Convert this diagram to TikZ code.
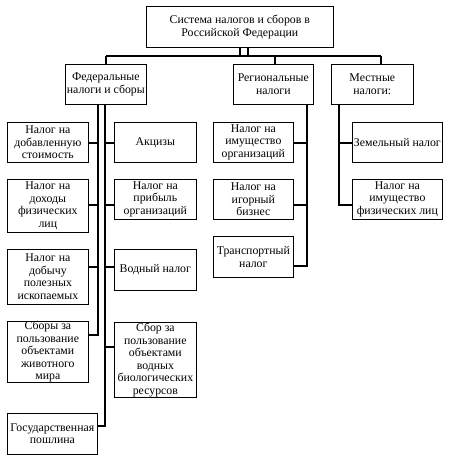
\documentclass[tikz,border=0pt]{standalone}
\usepackage{fontspec}
\setmainfont{Liberation Serif}
\begin{document}
\begin{tikzpicture}[x=1pt,y=-1pt,
  box/.style={draw, line width=0.7pt, inner sep=0pt, align=center, anchor=north west,
    font=\fontsize{11.8}{12.5}\selectfont},
  conn/.style={line width=1.8pt}]
\useasboundingbox (0,0) rectangle (459,464);
% top
\node[box, minimum width=187pt, minimum height=41pt] (top) at (146,6) {Система налогов и сборов в\\Российской Федерации};
\node[box, minimum width=81pt, minimum height=40pt] (fed) at (65,64) {Федеральные\\налоги и сборы};
\node[box, minimum width=80pt, minimum height=40pt] (reg) at (233,64) {Региональные\\налоги};
\node[box, minimum width=82pt, minimum height=40pt] (loc) at (331,64) {Местные\\налоги:};
% federal left
\node[box, minimum width=81pt, minimum height=40pt] (ndc) at (7,122) {Налог на\\добавленную\\стоимость};
\node[box, minimum width=81pt, minimum height=53pt] (ndfl) at (7,179) {Налог на\\доходы\\физических\\лиц};
\node[box, minimum width=81pt, minimum height=55pt] (ndpi) at (7,249) {Налог на\\добычу\\полезных\\ископаемых};
\node[box, minimum width=81pt, minimum height=57pt] (sbory) at (7,321) {Сборы за\\пользование\\объектами\\животного\\мира};
\node[box, minimum width=90pt, minimum height=41pt] (gos) at (7,413) {Государственная\\пошлина};
% federal right
\node[box, minimum width=82pt, minimum height=40pt] (akc) at (114,122) {Акцизы};
\node[box, minimum width=82pt, minimum height=40pt] (prib) at (114,179) {Налог на\\прибыль\\организаций};
\node[box, minimum width=82pt, minimum height=41pt] (vod) at (114,249) {Водный налог};
\node[box, minimum width=82pt, minimum height=75pt] (sbor) at (114,322) {Сбор за\\пользование\\объектами\\водных\\биологических\\ресурсов};
% regional
\node[box, minimum width=80pt, minimum height=40pt] (imorg) at (213,122) {Налог на\\имущество\\организаций};
\node[box, minimum width=80pt, minimum height=40pt] (igor) at (213,179) {Налог на\\игорный\\бизнес};
\node[box, minimum width=80pt, minimum height=41pt] (trans) at (213,236) {Транспортный\\налог};
% local
\node[box, minimum width=90pt, minimum height=40pt] (zem) at (352,122) {Земельный налог};
\node[box, minimum width=90pt, minimum height=40pt] (imfiz) at (352,179) {Налог на\\имущество\\физических лиц};
% top connectors
\draw[conn] (top.south -| 240,0) -- (240,56);
\draw[conn] (top.south -| 248,0) -- (248,56);
\draw[conn] (106,56) -- (381,56);
\draw[conn] (fed.north -| 106,0) -- (106,56);
\draw[conn] (reg.north -| 275,0) -- (275,56);
\draw[conn] (loc.north -| 381,0) -- (381,56);
% federal left trunk
\draw[conn] (fed.south -| 98,0) |- (sbory.east |- 0,335);
\draw[conn] (ndc.east |- 0,143) -- (98,143);
\draw[conn] (ndfl.east |- 0,205) -- (98,205);
\draw[conn] (ndpi.east |- 0,267) -- (98,267);
% federal right trunk
\draw[conn] (fed.south -| 105,0) |- (gos.east |- 0,426);
\draw[conn] (akc.west |- 0,143) -- (105,143);
\draw[conn] (prib.west |- 0,205) -- (105,205);
\draw[conn] (vod.west |- 0,267) -- (105,267);
\draw[conn] (sbor.west |- 0,347) -- (105,347);
% regional trunk
\draw[conn] (reg.south -| 307,0) |- (trans.east |- 0,266);
\draw[conn] (imorg.east |- 0,143) -- (307,143);
\draw[conn] (igor.east |- 0,205) -- (307,205);
% local trunk
\draw[conn] (loc.south -| 339,0) |- (imfiz.west |- 0,205);
\draw[conn] (zem.west |- 0,143) -- (339,143);
\end{tikzpicture}
\end{document}
